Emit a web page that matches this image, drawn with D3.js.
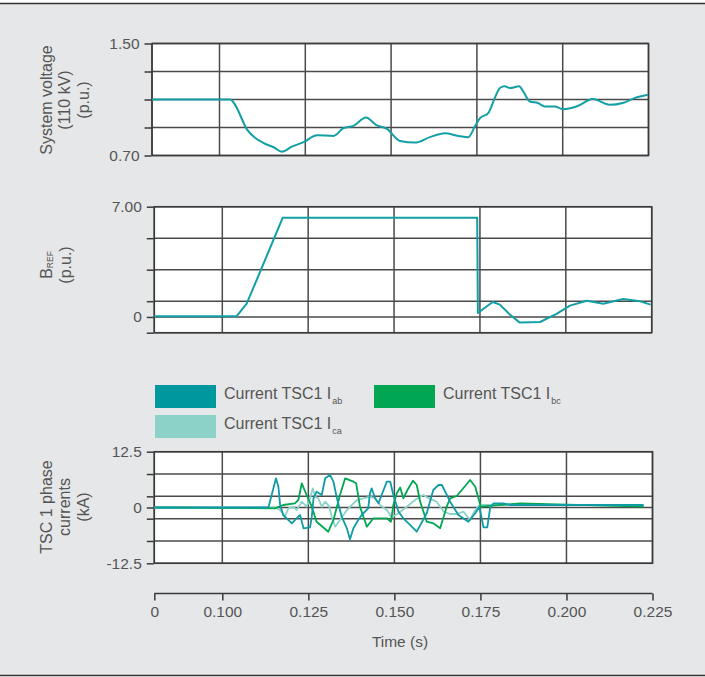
<!DOCTYPE html>
<html>
<head>
<meta charset="utf-8">
<script src="https://cdn.jsdelivr.net/npm/d3@7"></script>
<style>
  html, body { margin: 0; padding: 0; background: #ffffff; }
  svg { display: block; font-family: "Liberation Sans", Arial, Helvetica, sans-serif; }
</style>
</head>
<body>
<svg id="chart" width="705" height="677"></svg>
<script>
// ---- data -------------------------------------------------------------
// time axis is broken: 0 .. 0.100 is compressed, 0.100 .. 0.225 is linear
const timeTicks = [0, 0.100, 0.125, 0.150, 0.175, 0.200, 0.225];

// system voltage on the 110 kV bus (p.u.)  [time s, value]
const voltage = [
  [0, 1.10], [0.1032, 1.10], [0.1042, 1.075], [0.1081, 0.883], [0.1129, 0.788],
  [0.1158, 0.759], [0.1182, 0.727], [0.1211, 0.763], [0.1245, 0.795], [0.1284, 0.845],
  [0.1332, 0.840], [0.1361, 0.895], [0.1390, 0.912], [0.1427, 0.971], [0.1456, 0.919],
  [0.1488, 0.890], [0.1526, 0.804], [0.1570, 0.792], [0.1613, 0.831], [0.1657, 0.859],
  [0.1696, 0.840], [0.1725, 0.831], [0.1744, 0.907], [0.1759, 0.967], [0.1783, 1.003],
  [0.1802, 1.110], [0.1817, 1.182], [0.1831, 1.194], [0.1846, 1.182], [0.1873, 1.194],
  [0.1885, 1.158], [0.1904, 1.086], [0.1928, 1.075], [0.1948, 1.050], [0.1977, 1.050],
  [0.2001, 1.031], [0.2040, 1.050], [0.2088, 1.103], [0.2137, 1.062], [0.2175, 1.075],
  [0.2209, 1.110], [0.2248, 1.134]
];
const voltageTicks = [0.70, 0.90, 1.10, 1.30, 1.50];
const voltageLabels = [0.70, 1.50];

// susceptance reference B_REF (p.u.)
const bref = [
  [0, 0.05], [0.1042, 0.05], [0.1071, 0.84], [0.1176, 6.30], [0.1742, 6.30],
  [0.1744, 0.25], [0.1787, 0.95], [0.1808, 0.78], [0.1837, 0.15], [0.1866, -0.36],
  [0.1925, -0.32], [0.1973, 0.19], [0.2012, 0.72], [0.2061, 1.03], [0.2109, 0.84],
  [0.2167, 1.14], [0.2216, 0.99], [0.2247, 0.78]
];
const brefTicks = [-1, 0, 1, 3, 5, 7];
const brefLabels = [0, 7];

// TSC 1 phase currents (kA)
const currentAb = [
  [0, 0], [0.1134, 0], [0.1156, 6.54], [0.1163, 4.66], [0.1168, 0.56], [0.1177, -1.68],
  [0.1202, -3.54], [0.1216, -2.42], [0.1226, -1.68], [0.1236, -4.66], [0.1255, -4.44],
  [0.1260, -2.06], [0.1265, 2.06], [0.1274, 3.54], [0.1289, 2.80], [0.1299, 6.54],
  [0.1313, 7.28], [0.1323, 5.78], [0.1333, 2.06], [0.1347, -2.06], [0.1362, -4.66],
  [0.1371, -7.12], [0.1381, -4.66], [0.1395, -2.80], [0.1405, -1.68], [0.1424, -0.18],
  [0.1429, 3.18], [0.1434, 4.30], [0.1444, 2.06], [0.1454, 0.94], [0.1463, 2.80],
  [0.1478, 5.78], [0.1488, 5.78], [0.1497, 2.80], [0.1512, -0.94], [0.1526, -2.42],
  [0.1541, -3.54], [0.1565, -5.42], [0.1594, -1.30], [0.1613, 3.92], [0.1628, 5.04],
  [0.1638, 5.04], [0.1662, 1.30], [0.1686, -1.68], [0.1715, -3.18], [0.1735, -1.30],
  [0.1747, 0.18], [0.1759, -4.44], [0.1770, -4.44], [0.1778, -0.18], [0.1788, 0.94],
  [0.1817, 0.94], [0.1836, 0.56], [0.2224, 0.56]
];
const currentBc = [
  [0, 0], [0.1153, -0.18], [0.1177, 0.56], [0.1211, 0.94], [0.1221, 1.68], [0.1231, 5.42],
  [0.1245, 2.80], [0.1260, 0.18], [0.1274, -3.18], [0.1308, -5.42], [0.1323, -2.80],
  [0.1342, 2.80], [0.1357, 6.54], [0.1381, 5.78], [0.1389, 5.42], [0.1400, 0.18],
  [0.1420, -4.30], [0.1439, -2.42], [0.1478, -2.42], [0.1490, -3.18], [0.1497, 0.56],
  [0.1507, 3.18], [0.1517, 4.50], [0.1526, 2.06], [0.1538, 3.92], [0.1554, 6.00],
  [0.1565, 5.04], [0.1575, 1.30], [0.1594, -3.18], [0.1613, -3.54], [0.1633, -4.66],
  [0.1652, 0.18], [0.1662, 2.06], [0.1681, 2.58], [0.1696, 3.92], [0.1720, 6.16],
  [0.1735, 4.66], [0.1747, 1.30], [0.1751, 0.18], [0.1865, 0.94], [0.2224, 0.18]
];
const currentCa = [
  [0, 0], [0.1153, 0], [0.1168, -0.56], [0.1182, -2.06], [0.1192, -0.18], [0.1206, 0.18],
  [0.1216, -0.56], [0.1231, 1.30], [0.1245, 0.18], [0.1255, 2.06], [0.1263, 4.30],
  [0.1270, 2.42], [0.1279, 2.06], [0.1289, 0.18], [0.1299, 1.30], [0.1311, 0.18],
  [0.1318, -2.06], [0.1328, -4.30], [0.1342, -2.80], [0.1362, -0.56], [0.1391, 1.68],
  [0.1410, 2.06], [0.1429, 2.42], [0.1444, 2.06], [0.1458, 0.56], [0.1478, -0.56],
  [0.1492, -2.20], [0.1512, -1.30], [0.1536, 0.18], [0.1560, 1.68], [0.1584, 2.80],
  [0.1599, 2.10], [0.1623, 1.30], [0.1643, -0.94], [0.1662, -1.46], [0.1681, -1.46],
  [0.1701, -0.94], [0.1720, -2.80], [0.1732, -0.94], [0.1747, 0.56], [0.2224, 0.56]
];
const currentTicks = [-12.5, -7.5, -2.5, 0, 2.5, 7.5, 12.5];
const currentLabels = [-12.5, 0, 12.5];

const legendItems = [
  { name: "Current TSC1 I", sub: "ab", color: "#00989f" },
  { name: "Current TSC1 I", sub: "bc", color: "#00a651" },
  { name: "Current TSC1 I", sub: "ca", color: "#8dd2c9" }
];

// ---- drawing ----------------------------------------------------------
const svg = d3.select("#chart");
const W = 705, H = 677;
const TEXT = "#555555";
const GRID = "#4a4a4a";
const FONT = 15.5;

// plain hyphen for negative numbers
const fmt = spec => d => d3.format(spec)(d).replace("\u2212", "-");

// page background with rules at top and bottom
svg.append("rect").attr("x", 0).attr("y", 3).attr("width", W).attr("height", 672).attr("fill", "#e6e7e8");
svg.append("line").attr("x1", 0).attr("x2", W).attr("y1", 3.5).attr("y2", 3.5).attr("stroke", "#333").attr("stroke-width", 1.5);
svg.append("line").attr("x1", 0).attr("x2", W).attr("y1", 675.5).attr("y2", 675.5).attr("stroke", "#333").attr("stroke-width", 1.5);

function makeX(left, at100, right) {
  return d3.scaleLinear().domain([0, 0.1, 0.225]).range([left, at100, right]);
}

function panel(opts) {
  const x = opts.x;
  const y = d3.scaleLinear().domain(opts.domain).range([opts.bottom, opts.top]);
  const g = svg.append("g");
  const [x0, x1] = [x(0), x(0.225)];

  g.append("rect").attr("x", x0).attr("y", opts.top).attr("width", x1 - x0)
    .attr("height", opts.bottom - opts.top).attr("fill", "#ffffff");

  // horizontal grid
  g.selectAll(".hg").data(opts.ticks).join("line")
    .attr("x1", x0).attr("x2", x1)
    .attr("y1", d => y(d)).attr("y2", d => y(d))
    .attr("stroke", GRID).attr("stroke-width", 1.5);
  // vertical grid
  g.selectAll(".vg").data(timeTicks).join("line")
    .attr("x1", d => x(d)).attr("x2", d => x(d))
    .attr("y1", opts.top).attr("y2", opts.bottom)
    .attr("stroke", GRID).attr("stroke-width", 1.5);
  // frame
  g.append("rect").attr("x", x0).attr("y", opts.top).attr("width", x1 - x0)
    .attr("height", opts.bottom - opts.top).attr("fill", "none")
    .attr("stroke", "#3a3a3a").attr("stroke-width", 1.5);

  // left axis: ticks at every grid line, labels only at selected values
  const axis = d3.axisLeft(y).tickValues(opts.ticks).tickSize(7).tickPadding(5).tickSizeOuter(0)
    .tickFormat(d => opts.labels.includes(d) ? opts.format(d) : "");
  const ag = g.append("g").attr("transform", `translate(${x0 - 0.5},0)`).call(axis);
  ag.select(".domain").remove();
  ag.selectAll(".tick line").attr("stroke", "#3a3a3a").attr("stroke-width", 1.5);
  ag.selectAll(".tick text").attr("fill", TEXT).style("font-size", FONT + "px")
    .style("font-family", "'Liberation Sans', Arial, sans-serif");

  return { g, x, y };
}

// ---- panel 1: system voltage
const xTop = makeX(152, 219.5, 648.5);
const p1 = panel({
  x: xTop, top: 43.5, bottom: 155.5, domain: [0.7, 1.5],
  ticks: voltageTicks, labels: voltageLabels, format: fmt(".2f")
});
p1.g.append("path").datum(voltage)
  .attr("fill", "none").attr("stroke", "#12a0a6").attr("stroke-width", 2)
  .attr("stroke-linejoin", "round")
  .attr("d", d3.line().x(d => p1.x(d[0])).y(d => p1.y(d[1])).curve(d3.curveMonotoneX));

// ---- panel 2: B_REF
const xMid = makeX(154.3, 222.3, 651.7);
const p2 = panel({
  x: xMid, top: 206.7, bottom: 332.7, domain: [-1, 7],
  ticks: brefTicks, labels: brefLabels, format: d => d === 0 ? "0" : fmt(".2f")(d)
});
p2.g.append("path").datum(bref)
  .attr("fill", "none").attr("stroke", "#12a0a6").attr("stroke-width", 2)
  .attr("stroke-linejoin", "round")
  .attr("d", d3.line().x(d => p2.x(d[0])).y(d => p2.y(d[1])));

// ---- panel 3: TSC phase currents
const xBot = makeX(154.3, 222.3, 652.5);
const p3 = panel({
  x: xBot, top: 451.7, bottom: 563.3, domain: [-12.5, 12.5],
  ticks: currentTicks, labels: currentLabels, format: d => d === 0 ? "0" : fmt(".1f")(d)
});
const curLine = d3.line().x(d => p3.x(d[0])).y(d => p3.y(d[1]));
[[currentCa, "#8dd2c9"], [currentBc, "#00a651"], [currentAb, "#0f9ca4"]].forEach(([s, c]) => {
  p3.g.append("path").datum(s)
    .attr("fill", "none").attr("stroke", c).attr("stroke-width", 1.8)
    .attr("stroke-linejoin", "round").attr("d", curLine);
});

// ---- time axis
const xAxis = d3.axisBottom(xBot).tickValues(timeTicks).tickSize(7).tickPadding(5).tickSizeOuter(0)
  .tickFormat(d => d === 0 ? "0" : d3.format(".3f")(d));
const xg = svg.append("g").attr("transform", "translate(0,593.5)").call(xAxis);
xg.select(".domain").attr("stroke", "#3a3a3a").attr("stroke-width", 1.5)
  .attr("d", `M${xBot(0)},0H${xBot(0.225)}`);
xg.selectAll(".tick line").attr("stroke", "#3a3a3a").attr("stroke-width", 1.5);
xg.selectAll(".tick text").attr("fill", TEXT).style("font-size", FONT + "px")
  .style("font-family", "'Liberation Sans', Arial, sans-serif");

svg.append("text").attr("x", 400).attr("y", 647).attr("text-anchor", "middle")
  .attr("fill", TEXT).style("font-size", FONT + "px").text("Time (s)");

// ---- y-axis titles (rotated, multi-line)
function vTitle(lines, cx, cy) {
  lines.forEach((ln, i) => {
    const t = svg.append("text")
      .attr("transform", `translate(${cx[i]},${cy}) rotate(-90)`)
      .attr("text-anchor", "middle").attr("dominant-baseline", "central")
      .attr("fill", TEXT).style("font-size", "16px");
    if (typeof ln === "string") {
      t.text(ln);
    } else {
      t.append("tspan").text(ln.main);
      t.append("tspan").attr("dy", "0.45em").style("font-size", "8.5px").text(ln.sub);
    }
  });
}
vTitle(["System voltage", "(110 kV)", "(p.u.)"], [46, 64, 83], 100);
vTitle([{ main: "B", sub: "REF" }, "(p.u.)"], [46, 65], 265);
vTitle(["TSC 1 phase", "currents", "(kA)"], [46, 64, 83], 507);

// ---- legend
const legendPos = [[155, 385], [374, 385], [155, 415]];
legendItems.forEach((item, i) => {
  const [lx, ly] = legendPos[i];
  svg.append("rect").attr("x", lx).attr("y", ly).attr("width", 61).attr("height", 23)
    .attr("fill", item.color);
  const t = svg.append("text").attr("x", lx + 69).attr("y", ly + 13.5)
    .attr("fill", TEXT).style("font-size", "16px");
  t.append("tspan").text(item.name);
  t.append("tspan").attr("dy", 5).attr("dx", 1).style("font-size", "9px").text(item.sub);
});
</script>
</body>
</html>
